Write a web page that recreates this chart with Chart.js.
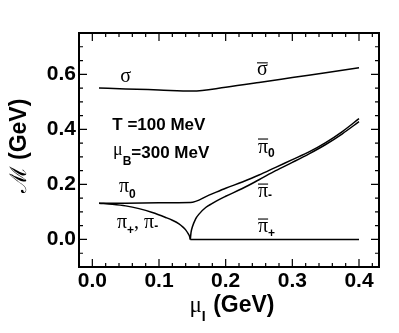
<!DOCTYPE html>
<html><head><meta charset="utf-8">
<script src="https://cdn.jsdelivr.net/npm/chart.js@4.4.1/dist/chart.umd.min.js"></script>
<style>html,body{margin:0;padding:0;background:#fff;}#wrap{width:399px;height:333px;}</style>
</head><body><div id="wrap"><canvas id="c" width="399" height="333"></canvas></div>
<script>
// ---- data (GeV) ----
const muSigma = [0.01, 0.05, 0.10, 0.15, 0.20, 0.25, 0.30, 0.35, 0.40];
const mSigma  = [0.550, 0.547, 0.543, 0.539, 0.553, 0.570, 0.588, 0.606, 0.624];

const muPi0 = [0.01, 0.05, 0.10, 0.147, 0.175, 0.20, 0.225, 0.25, 0.275, 0.30, 0.325, 0.35, 0.375, 0.40];
const mPi0  = [0.132, 0.132, 0.133, 0.134, 0.161, 0.186, 0.209, 0.234, 0.262, 0.290, 0.318, 0.352, 0.392, 0.439];

const muPiPM = [0.01, 0.03, 0.05, 0.07, 0.09, 0.11, 0.12, 0.13, 0.136, 0.14, 0.144, 0.146, 0.147];
const mPiPM  = [0.132, 0.128, 0.122, 0.112, 0.098, 0.080, 0.070, 0.057, 0.045, 0.035, 0.020, 0.010, 0.0];

const muPiMinus = [0.147, 0.148, 0.150, 0.155, 0.16, 0.17, 0.18, 0.19, 0.20, 0.225, 0.25, 0.275, 0.30, 0.325, 0.35, 0.375, 0.40];
const mPiMinus  = [0.0, 0.025, 0.045, 0.075, 0.092, 0.116, 0.131, 0.145, 0.157, 0.185, 0.217, 0.250, 0.280, 0.311, 0.345, 0.384, 0.428];

const muPiPlus = [0.147, 0.40];
const mPiPlus  = [0.0, 0.0];

const xTickLabels = [0.0, 0.1, 0.2, 0.3, 0.4];
const yTickLabels = [0.0, 0.2, 0.4, 0.6];

const pts = (xs, ys) => xs.map((x, i) => ({x: x, y: ys[i]}));
const lineDs = (xs, ys) => ({data: pts(xs, ys), borderColor: '#000', borderWidth: 1.5, pointRadius: 0, showLine: true, cubicInterpolationMode: 'monotone', fill: false});

const SANS = '"Liberation Sans", Arial, sans-serif';
const SERIF = '"Liberation Serif", "Times New Roman", serif';

function runs(ctx, x, y, parts) {
  let cx = x;
  for (const p of parts) {
    ctx.font = p.font;
    ctx.fillText(p.t, cx, y + (p.dy || 0));
    const w = ctx.measureText(p.t).width;
    if (p.bar) {
      ctx.save(); ctx.lineWidth = 1.1; ctx.beginPath();
      ctx.moveTo(cx, y + p.bar); ctx.lineTo(cx + w, y + p.bar); ctx.stroke(); ctx.restore();
    }
    cx += w + (p.gap || 0);
  }
}

const decor = {
  id: 'decor',
  afterDraw(chart) {
    const ctx = chart.ctx, a = chart.chartArea, xs = chart.scales.x, ys = chart.scales.y;
    ctx.save();
    ctx.strokeStyle = '#000'; ctx.fillStyle = '#000';
    // ticks on all four sides, pointing inward
    ctx.lineWidth = 1.2;
    ctx.beginPath();
    for (let i = 0; i <= 21; i++) {
      const v = i * 0.02, px = xs.getPixelForValue(v);
      const L = (i % 5 === 0) ? 8 : 4;
      ctx.moveTo(px, a.bottom); ctx.lineTo(px, a.bottom - L);
      ctx.moveTo(px, a.top); ctx.lineTo(px, a.top + L);
    }
    for (let i = -2; i <= 14; i++) {
      const v = i * 0.05, py = ys.getPixelForValue(v);
      const L = (i % 4 === 0) ? 8 : 4;
      ctx.moveTo(a.left, py); ctx.lineTo(a.left + L, py);
      ctx.moveTo(a.right, py); ctx.lineTo(a.right - L, py);
    }
    ctx.stroke();
    // frame
    ctx.lineWidth = 2;
    ctx.strokeRect(a.left, a.top, a.right - a.left, a.bottom - a.top);

    const X = v => xs.getPixelForValue(v), Y = v => ys.getPixelForValue(v);
    ctx.textBaseline = 'alphabetic'; ctx.textAlign = 'left';
    const g = '20px ' + SERIF, sb = 'bold 12px ' + SANS, tb = 'bold 17px ' + SANS;
    // sigma labels
    runs(ctx, X(0.042), Y(0.572), [{t: 'σ', font: g}]);
    runs(ctx, X(0.247), Y(0.598), [{t: 'σ', font: g, bar: -12}]);
    // parameters
    runs(ctx, X(0.030), Y(0.398), [{t: 'T =100 MeV', font: tb}]);
    runs(ctx, X(0.031), Y(0.307), [{t: 'μ', font: '18px ' + SERIF}, {t: 'B', font: sb, dy: 10}, {t: '=300 MeV', font: tb, dy: 3}]);
    // pion labels (phase 1)
    runs(ctx, X(0.040), Y(0.1725), [{t: 'π', font: g}, {t: '0', font: sb, dy: 6}]);
    runs(ctx, X(0.037), Y(0.042), [{t: 'π', font: g}, {t: '+', font: sb, dy: 6}, {t: ', ', font: g}, {t: 'π', font: g}, {t: '-', font: sb, dy: 2}]);
    // pion labels (phase 2)
    runs(ctx, X(0.2485), Y(0.314), [{t: 'π', font: g, bar: -14}, {t: '0', font: sb, dy: 4}]);
    runs(ctx, X(0.2485), Y(0.154), [{t: 'π', font: g, bar: -13}, {t: '-', font: sb, dy: 2}]);
    runs(ctx, X(0.2485), Y(0.027), [{t: 'π', font: g, bar: -13}, {t: '+', font: sb, dy: 5}]);

    // x title
    ctx.font = '23px ' + SERIF; const w1 = ctx.measureText('μ').width;
    ctx.font = 'bold 14px ' + SANS; const w2 = ctx.measureText('I').width + 1;
    ctx.font = 'bold 23px ' + SANS; const w3 = ctx.measureText(' (GeV)').width;
    const cxT = (a.left + a.right) / 2 + 3;
    runs(ctx, cxT - (w1 + w2 + w3) / 2, 312, [{t: 'μ', font: '23px ' + SERIF}, {t: 'I', font: 'bold 14px ' + SANS, dy: 9, gap: 1}, {t: ' (GeV)', font: 'bold 23px ' + SANS}]);

    // y title (rotated)
    ctx.save();
    ctx.translate(26, 146);
    ctx.rotate(-Math.PI / 2);
    ctx.font = '23px "DejaVu Serif", serif'; const m1 = ctx.measureText('ℳ').width;
    ctx.font = 'bold 23px ' + SANS; const m2 = ctx.measureText(' (GeV)').width;
    runs(ctx, -(m1 + m2) / 2, 0, [{t: 'ℳ', font: '23px "DejaVu Serif", serif'}, {t: ' (GeV)', font: 'bold 23px ' + SANS}]);
    ctx.restore();
    ctx.restore();
  }
};

new Chart(document.getElementById('c'), {
  type: 'scatter',
  data: {datasets: [
    lineDs(muSigma, mSigma),
    lineDs(muPi0, mPi0),
    lineDs(muPiPM, mPiPM),
    lineDs(muPiMinus, mPiMinus),
    lineDs(muPiPlus, mPiPlus)
  ]},
  options: {
    responsive: false, animation: false, devicePixelRatio: 1,
    layout: {padding: {top: 33, right: 20, left: 0, bottom: 0}},
    plugins: {legend: {display: false}, tooltip: {enabled: false}},
    scales: {
      x: {type: 'linear', min: -0.02, max: 0.43,
        grid: {display: false, drawTicks: false}, border: {display: false},
        afterBuildTicks: s => { s.ticks = xTickLabels.map(v => ({value: v})); },
        afterFit: s => { s.height = 66; },
        ticks: {color: '#000', padding: 2, maxRotation: 0, autoSkip: false, font: {family: SANS, size: 21, weight: 'bold'},
          callback: v => Number(v).toFixed(1)}},
      y: {type: 'linear', min: -0.1, max: 0.75,
        grid: {display: false, drawTicks: false}, border: {display: false},
        afterBuildTicks: s => { s.ticks = yTickLabels.map(v => ({value: v})); },
        afterFit: s => { s.width = 79; },
        ticks: {color: '#000', padding: 3, autoSkip: false, font: {family: SANS, size: 21, weight: 'bold'},
          callback: v => Number(v).toFixed(1)}}
    }
  },
  plugins: [decor]
});
</script></body></html>
